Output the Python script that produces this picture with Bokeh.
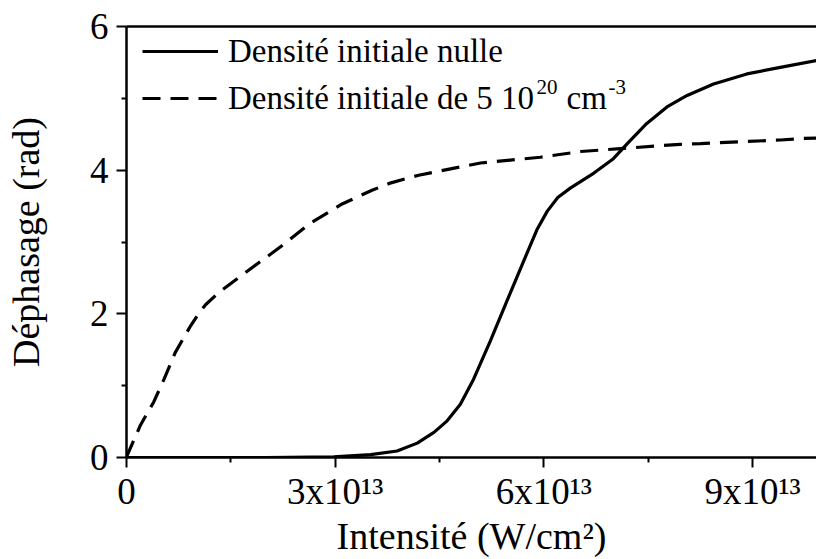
from bokeh.plotting import figure
from bokeh.models import (FixedTicker, CustomJSTickFormatter, LinearAxis, Legend,
                          LegendItem, Range1d, ColumnDataSource, Label)
from bokeh.embed import file_html
from bokeh.resources import INLINE

# Intensité in units of 1e13 W/cm^2 ; déphasage in rad
x_null = [0.0, 1.0, 2.0, 2.98, 3.51, 3.89, 4.18, 4.42, 4.61, 4.80, 4.99, 5.23, 5.47,
          5.66, 5.90, 6.05, 6.20, 6.38, 6.72, 7.00, 7.20, 7.48, 7.77, 8.06, 8.44, 8.92,
          9.40, 10.0]
y_null = [0.0, 0.0, 0.0, 0.01, 0.04, 0.09, 0.20, 0.35, 0.51, 0.74, 1.09, 1.62, 2.18,
          2.62, 3.17, 3.43, 3.62, 3.75, 3.96, 4.16, 4.37, 4.65, 4.88, 5.04, 5.20, 5.34,
          5.43, 5.54]

x_dens = [0.0, 0.01, 0.20, 0.39, 0.54, 0.70, 0.92, 1.05, 1.14, 1.33, 1.76, 2.21, 2.64,
          3.10, 3.53, 3.79, 4.20, 5.09, 5.95, 6.53, 7.10, 7.96, 8.25, 9.40, 9.69, 10.0]
y_dens = [0.0, 0.03, 0.45, 0.77, 1.09, 1.46, 1.83, 2.02, 2.13, 2.30, 2.61, 2.93, 3.26,
          3.53, 3.72, 3.82, 3.93, 4.10, 4.18, 4.26, 4.30, 4.36, 4.37, 4.42, 4.44, 4.45]

x_major = [0, 3e13, 6e13, 9e13]
x_minor = [1.5e13, 4.5e13, 7.5e13]
y_major = [0, 2, 4, 6]
y_minor = [1, 3, 5]

label_null = "Densité initiale nulle"
label_dens = "Densité initiale de 5 10"
label_dens_sup1 = "20"
label_dens_unit = "cm"
label_dens_sup2 = "-3"
x_title = "Intensité (W/cm²)"
y_title = "Déphasage (rad)"

FONT = "serif"

src_null = ColumnDataSource(dict(x=[v * 1e13 for v in x_null], y=y_null))
src_dens = ColumnDataSource(dict(x=[v * 1e13 for v in x_dens], y=y_dens))

p = figure(width=816, height=559, output_backend="svg", toolbar_location=None,
           x_range=Range1d(0, 9.92e13), y_range=Range1d(0, 6),
           min_border_left=126, min_border_right=0, min_border_top=26,
           min_border_bottom=100)
p.outline_line_color = None
p.grid.visible = False
p.background_fill_color = "white"
p.border_fill_color = "white"

r1 = p.line("x", "y", source=src_null, line_color="black", line_width=3.2)
r2 = p.line("x", "y", source=src_dens, line_color="black", line_width=3.2,
            line_dash="18 10")

xa = p.xaxis[0]
xa.ticker = FixedTicker(ticks=x_major, minor_ticks=x_minor)
xa.formatter = CustomJSTickFormatter(
    code="return tick == 0 ? '0' : (tick/1e13).toFixed(0) + 'x10\u00b9\u00b3';")
ya = p.yaxis[0]
ya.ticker = FixedTicker(ticks=y_major, minor_ticks=y_minor)

for ax in (xa, ya):
    ax.axis_line_width = 2.5
    ax.axis_line_color = "black"
    ax.major_tick_line_width = 2
    ax.minor_tick_line_width = 2
    ax.major_tick_in = 0
    ax.minor_tick_in = 0
    ax.major_tick_out = 10
    ax.minor_tick_out = 5
    ax.major_label_text_font = FONT
    ax.major_label_text_font_size = "37px"
    ax.major_label_text_color = "black"
    ax.axis_label_text_font = FONT
    ax.axis_label_text_font_size = "38px"
    ax.axis_label_text_font_style = "normal"
    ax.axis_label_text_color = "black"

xa.axis_label = x_title
ya.axis_label = y_title
xa.major_label_standoff = 3
xa.axis_label_standoff = 0
ya.major_label_standoff = 8
ya.axis_label_standoff = 40

top = LinearAxis(ticker=FixedTicker(ticks=[]), axis_line_width=2.5,
                 axis_line_color="black", major_tick_out=0, minor_tick_out=0,
                 major_label_text_font_size="0px")
p.add_layout(top, "above")

legend = Legend(items=[LegendItem(label=label_null, renderers=[r1]),
                       LegendItem(label=label_dens, renderers=[r2])],
                location=(16, 337), border_line_color=None,
                background_fill_alpha=0, padding=0, margin=0, spacing=3,
                glyph_width=76, glyph_height=44, label_height=44,
                label_standoff=10, label_text_font=FONT,
                label_text_font_size="33px", label_text_color="black")
p.add_layout(legend)

# superscripts / unit of the second legend entry (screen offsets from the frame)
for txt, sx, sy, size, base in [(label_dens_sup1, 410, 378, "21px", "top"),
                                (label_dens_unit, 440, 360, "33px", "middle"),
                                (label_dens_sup2, 482, 378, "21px", "top")]:
    p.add_layout(Label(x=sx, y=sy, x_units="screen", y_units="screen", text=txt,
                       text_font=FONT, text_font_size=size, text_color="black",
                       text_baseline=base, text_align="left"))

open("out.html", "w").write(file_html(p, INLINE))
